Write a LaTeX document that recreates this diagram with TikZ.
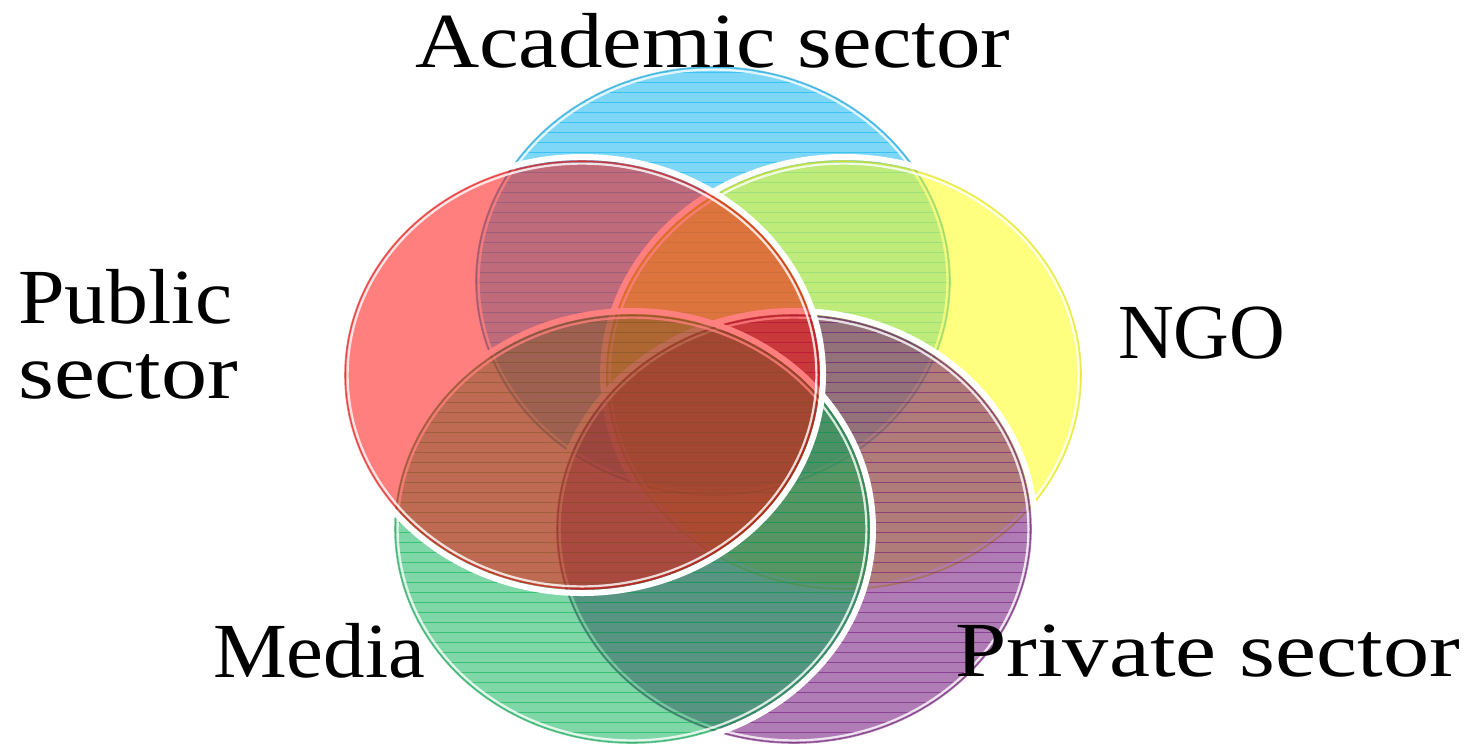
\documentclass[tikz,border=0pt]{standalone}
\usepackage{fontspec}
\setmainfont{Liberation Serif}
\usepackage{graphicx}
\definecolor{cBlue}{RGB}{0,176,240}
\definecolor{cYellow}{RGB}{255,255,0}
\definecolor{cPurple}{RGB}{112,16,120}
\definecolor{cGreen}{RGB}{0,176,80}
\definecolor{cRed}{RGB}{255,0,0}
\tikzset{
  lbl/.style={anchor=base west, inner sep=0pt, font=\fontsize{78}{80}\selectfont},
}
\begin{document}
\begin{tikzpicture}[x=1pt,y=-1pt]
\useasboundingbox (0,0) rectangle (1472,745);
\def\rx{237}\def\ry{214}
\foreach \n/\cx/\cy/\col/\h/\op in {
  blue/713/281/cBlue/1/0.5,
  yellow/844/375/cYellow/0/0.5,
  purple/794/529/cPurple/1/0.55,
  green/632/529/cGreen/1/0.5,
  red/582/375/cRed/0/0.5}{
  \coordinate (\n) at (\cx,\cy);
  \draw[white, line width=6pt] (\n) ellipse [x radius=\rx+4, y radius=\ry+4];
  \fill[\col, fill opacity=\op] (\n) ellipse [x radius=\rx, y radius=\ry];
  \ifnum\h=1
    \begin{scope}
      \clip (\n) ellipse [x radius=\rx-1, y radius=\ry-1];
      \foreach \yy in {62,72,...,752}
        \draw[\col, opacity=0.55, line width=1pt] (\cx-\rx,\yy) -- (\cx+\rx,\yy);
    \end{scope}
  \fi
  \draw[white, opacity=0.8, line width=2.2pt] (\n) ellipse [x radius=\rx-2.6, y radius=\ry-2.6];
  \draw[\col!85!black, opacity=0.55, line width=1.6pt] (\n) ellipse [x radius=\rx, y radius=\ry];
}
\node[lbl] (acad) at (415,67) {\resizebox{595pt}{\height}{Academic sector}};
\node[lbl] (pub1) at (18,323) {\resizebox{214pt}{\height}{Public}};
\node[lbl] (pub2) at (18,398) {\resizebox{220pt}{\height}{sector}};
\node[lbl] (ngo) at (1118,358) {\resizebox{167pt}{\height}{NGO}};
\node[lbl] (media) at (213,677) {\resizebox{212pt}{\height}{Media}};
\node[lbl] (priv) at (955,676) {\resizebox{505pt}{\height}{Private sector}};
\end{tikzpicture}
\end{document}
